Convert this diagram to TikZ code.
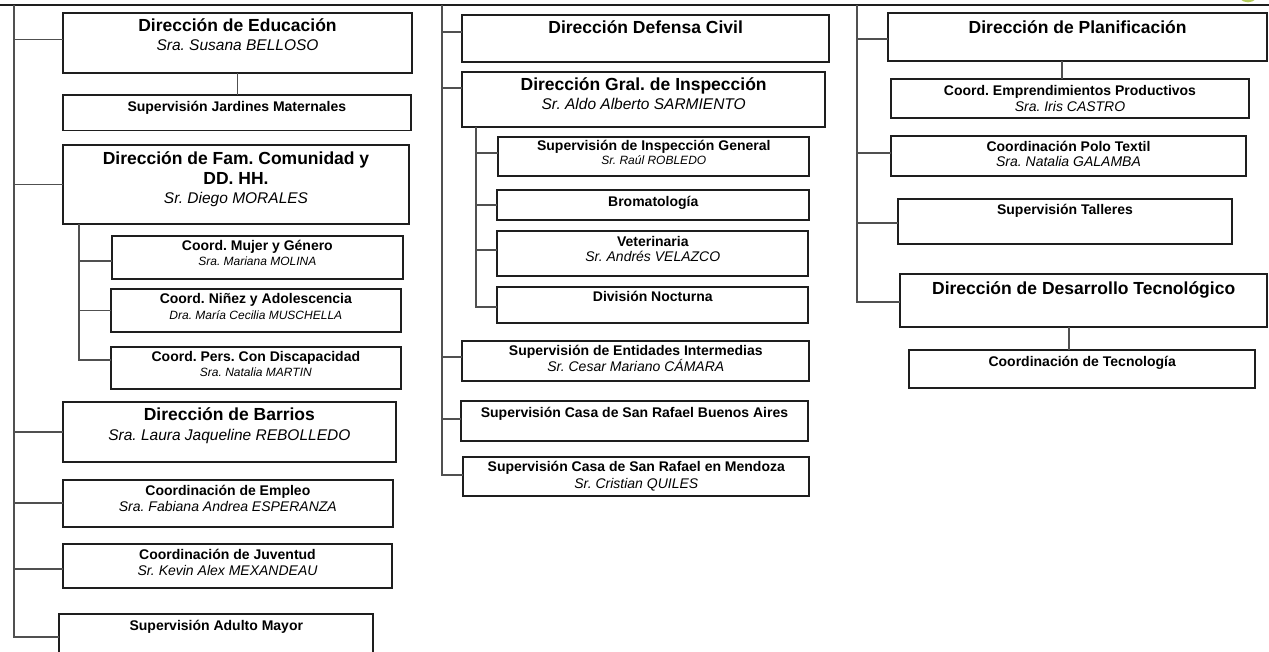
\documentclass[tikz,border=0pt]{standalone}
\usepackage{fontspec}
\setmainfont{Liberation Sans}
\frenchspacing
\definecolor{boxc}{HTML}{1E1E1E}
\definecolor{connc}{HTML}{505050}
\definecolor{logoc}{HTML}{B4CC5C}
\begin{document}
\begin{tikzpicture}[x=1pt,y=-1pt,
  box/.style={draw=boxc, line width=1.8pt, inner sep=0pt, outer sep=0pt, anchor=north west},
  conn/.style={draw=connc, line width=1.8pt},
  ttl/.style={anchor=base, inner sep=0pt, font=\fontsize{17.5}{20}\selectfont\bfseries},
  lbl/.style={anchor=base, inner sep=0pt, font=\fontsize{14}{16}\selectfont\bfseries},
  nma/.style={anchor=base, inner sep=0pt, font=\fontsize{15.5}{18}\selectfont\itshape},
  nmb/.style={anchor=base, inner sep=0pt, font=\fontsize{14}{16}\selectfont\itshape},
  nmc/.style={anchor=base, inner sep=0pt, font=\fontsize{12}{14}\selectfont\itshape}]
\useasboundingbox (0,0) rectangle (1269,651);

% ---------- trunk coordinates ----------
\coordinate (topA) at (0,5);
\coordinate (topB) at (1269,5);
\coordinate (tL) at (14,5);
\coordinate (tM) at (441.7,5);
\coordinate (tR) at (857.3,5);

% ---------- left column ----------
\node[box, minimum width=349pt,   minimum height=60.6pt] (edu) at (63,12.7) {};
\node[box, minimum width=347.7pt, minimum height=35.5pt] (jar) at (63,95) {};
\node[box, minimum width=346pt,   minimum height=79pt]   (fam) at (63,145) {};
\node[box, minimum width=290.7pt, minimum height=43pt]   (muj) at (112,236) {};
\node[box, minimum width=290.3pt, minimum height=43pt]   (nin) at (110.7,289) {};
\node[box, minimum width=290.3pt, minimum height=42.6pt] (dis) at (110.7,346.7) {};
\node[box, minimum width=332.7pt, minimum height=60pt]   (bar) at (63,402.3) {};
\node[box, minimum width=329.7pt, minimum height=46.7pt] (emp) at (63,480) {};
\node[box, minimum width=329pt,   minimum height=44pt]   (juv) at (63,544.3) {};
\node[box, minimum width=314pt,   minimum height=50pt]   (adu) at (59.3,614.3) {};

\node[ttl] (edu-a) at (edu.north |- 0,31) {Dirección de Educación};
\node[nma] (edu-b) at (edu.north |- 0,50.7) {Sra. Susana BELLOSO};
\node[lbl] (jar-a) at (jar.north |- 0,111.7) {Supervisión Jardines Maternales};
\node[ttl] (fam-a) at (fam.north |- 0,164) {Dirección de Fam. Comunidad y};
\node[ttl] (fam-b) at (fam.north |- 0,184) {DD. HH.};
\node[nma] (fam-c) at (fam.north |- 0,203.3) {Sr. Diego MORALES};
\node[lbl] (muj-a) at (muj.north |- 0,250.7) {Coord. Mujer y Género};
\node[nmc] (muj-b) at (muj.north |- 0,265.3) {Sra. Mariana MOLINA};
\node[lbl] (nin-a) at (nin.north |- 0,303.3) {Coord. Niñez y Adolescencia};
\node[nmc] (nin-b) at (nin.north |- 0,319) {Dra. María Cecilia MUSCHELLA};
\node[lbl] (dis-a) at (dis.north |- 0,361) {Coord. Pers. Con Discapacidad};
\node[nmc] (dis-b) at (dis.north |- 0,376) {Sra. Natalia MARTIN};
\node[ttl] (bar-a) at (bar.north |- 0,420) {Dirección de Barrios};
\node[nma] (bar-b) at (bar.north |- 0,440) {Sra. Laura Jaqueline REBOLLEDO};
\node[lbl] (emp-a) at (emp.north |- 0,495) {Coordinación de Empleo};
\node[nmb] (emp-b) at (emp.north |- 0,511) {Sra. Fabiana Andrea ESPERANZA};
\node[lbl] (juv-a) at (juv.north |- 0,559) {Coordinación de Juventud};
\node[nmb] (juv-b) at (juv.north |- 0,575) {Sr. Kevin Alex MEXANDEAU};
\node[lbl] (adu-a) at (adu.north |- 0,630.7) {Supervisión Adulto Mayor};

% ---------- middle column ----------
\node[box, minimum width=366.7pt, minimum height=46.7pt] (dc)  at (462.3,15) {};
\node[box, minimum width=362.7pt, minimum height=54.4pt] (ins) at (462.3,72.3) {};
\node[box, minimum width=311pt,   minimum height=39pt]   (sig) at (498.3,136.7) {};
\node[box, minimum width=312pt,   minimum height=30pt]   (bro) at (497.3,190) {};
\node[box, minimum width=311pt,   minimum height=45.3pt] (vet) at (497.3,230.7) {};
\node[box, minimum width=311pt,   minimum height=36.6pt] (noc) at (497.3,286.7) {};
\node[box, minimum width=347pt,   minimum height=40.3pt] (ent) at (462.3,340.7) {};
\node[box, minimum width=347.6pt, minimum height=40.3pt] (cba) at (460.7,400.7) {};
\node[box, minimum width=346pt,   minimum height=39pt]   (cme) at (463.3,456.7) {};

\node[ttl] (dc-a)  at (dc.north |- 0,33.3) {Dirección Defensa Civil};
\node[ttl] (ins-a) at (ins.north |- 0,90.7) {Dirección Gral. de Inspección};
\node[nma] (ins-b) at (ins.north |- 0,109) {Sr. Aldo Alberto SARMIENTO};
\node[lbl] (sig-a) at (sig.north |- 0,150) {Supervisión de Inspección General};
\node[nmc] (sig-b) at (sig.north |- 0,164) {Sr. Raúl ROBLEDO};
\node[lbl] (bro-a) at (bro.north |- 0,206) {Bromatología};
\node[lbl] (vet-a) at (vet.north |- 0,246) {Veterinaria};
\node[nmb] (vet-b) at (vet.north |- 0,261.7) {Sr. Andrés VELAZCO};
\node[lbl] (noc-a) at (noc.north |- 0,301) {División Nocturna};
\node[lbl] (ent-a) at (ent.north |- 0,355.7) {Supervisión de Entidades Intermedias};
\node[nmb] (ent-b) at (ent.north |- 0,371.7) {Sr. Cesar Mariano CÁMARA};
\node[lbl] (cba-a) at (cba.north |- 0,417.3) {Supervisión Casa de San Rafael Buenos Aires};
\node[lbl] (cme-a) at (cme.north |- 0,471.7) {Supervisión Casa de San Rafael en Mendoza};
\node[nmb] (cme-b) at (cme.north |- 0,488.3) {Sr. Cristian QUILES};

% ---------- right column ----------
\node[box, minimum width=378.7pt, minimum height=47.7pt] (pla) at (888.3,13.3) {};
\node[box, minimum width=358.6pt, minimum height=39pt]   (emr) at (890.7,79.3) {};
\node[box, minimum width=355pt,   minimum height=39.7pt] (pol) at (891,136) {};
\node[box, minimum width=333.4pt, minimum height=45pt]   (tal) at (898.3,199.3) {};
\node[box, minimum width=367.3pt, minimum height=52.7pt] (des) at (900,274) {};
\node[box, minimum width=345.7pt, minimum height=38.3pt] (tec) at (909.3,350) {};

\node[ttl] (pla-a) at (pla.north |- 0,33.3) {Dirección de Planificación};
\node[lbl] (emr-a) at (emr.north |- 0,95) {Coord. Emprendimientos Productivos};
\node[nmb] (emr-b) at (emr.north |- 0,111) {Sra. Iris CASTRO};
\node[lbl] (pol-a) at (pol.north |- 0,151) {Coordinación Polo Textil};
\node[nmb] (pol-b) at (pol.north |- 0,166.7) {Sra. Natalia GALAMBA};
\node[lbl] (tal-a) at (tal.north |- 0,214.3) {Supervisión Talleres};
\node[ttl] (des-a) at (des.north |- 0,294) {Dirección de Desarrollo Tecnológico};
\node[lbl] (tec-a) at (tec.north |- 0,366) {Coordinación de Tecnología};

% ---------- connectors ----------
\draw[line width=1.6pt, draw=boxc] (topA) -- (topB);

% left trunk
\draw[conn] (tL) |- ([yshift=2pt]adu.west);
\draw[conn] (tL |- 0,39.5) -- (edu.west |- 0,39.5);
\draw[conn] (tL |- fam.west) -- (fam.west);
\draw[conn] (tL |- bar.west) -- (bar.west);
\draw[conn] (tL |- emp.west) -- (emp.west);
\draw[conn] (tL |- 0,569.3) -- (juv.west |- 0,569.3);
\draw[conn] (edu.south) -- (edu.south |- jar.north);
% family sub-branch
\coordinate (fL) at ([xshift=16pt]fam.south west);
\draw[conn] (fL) |- (dis.west |- 0,360);
\draw[conn] (fL |- 0,260.7) -- (muj.west |- 0,260.7);
\draw[conn] (fL |- nin.west) -- (nin.west);

% middle trunk
\draw[conn] (tM) |- (cme.west |- 0,475);
\draw[conn] (tM |- 0,31.7) -- (dc.west |- 0,31.7);
\draw[conn] (tM |- 0,88.3) -- (ins.west |- 0,88.3);
\draw[conn] (tM |- 0,356.7) -- (ent.west |- 0,356.7);
\draw[conn] (tM |- 0,419.3) -- (cba.west |- 0,419.3);
% inspection sub-branch
\coordinate (iL) at ([xshift=13.7pt]ins.south west);
\draw[conn] (iL) |- (noc.west |- 0,306.7);
\draw[conn] (iL |- 0,153.3) -- (sig.west |- 0,153.3);
\draw[conn] (iL |- bro.west) -- (bro.west);
\draw[conn] (iL |- 0,250) -- (vet.west |- 0,250);

% right trunk
\draw[conn] (tR) |- (des.west |- 0,301.7);
\draw[conn] (tR |- 0,39.3) -- (pla.west |- 0,39.3);
\draw[conn] (tR |- 0,153.3) -- (pol.west |- 0,153.3);
\draw[conn] (tR |- 0,222.7) -- (tal.west |- 0,222.7);
\draw[conn] ([xshift=-8pt]emr.north) -- ([xshift=-8pt]emr.north |- pla.south);
\draw[conn] ([xshift=-13pt]tec.north) -- ([xshift=-13pt]tec.north |- des.south);

% corner of the emblem above the frame
\draw[draw=logoc, line width=2.6pt] (1248,-9) circle [radius=10];
\end{tikzpicture}
\end{document}
